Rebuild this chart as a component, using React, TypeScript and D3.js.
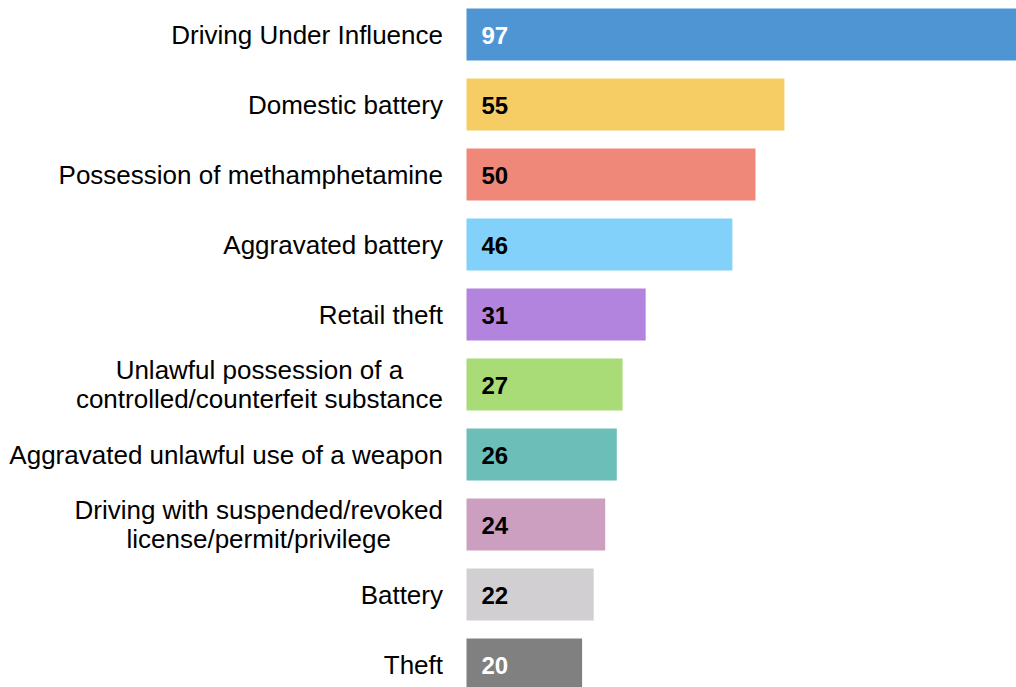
import { useEffect, useRef } from "react";
import * as d3 from "d3";

// offense categories (two-line labels split with "\n")
const categories = [
  "Driving Under Influence",
  "Domestic battery",
  "Possession of methamphetamine",
  "Aggravated battery",
  "Retail theft",
  "Unlawful possession of a\ncontrolled/counterfeit substance",
  "Aggravated unlawful use of a weapon",
  "Driving with suspended/revoked\nlicense/permit/privilege",
  "Battery",
  "Theft",
];
const counts = [97, 55, 50, 46, 31, 27, 26, 24, 22, 20];
const barColors = [
  "#4f95d4",
  "#f6cd64",
  "#f0887a",
  "#81d1fb",
  "#b384de",
  "#a9db77",
  "#6bbfb8",
  "#cc9ebf",
  "#d1cfd1",
  "#808080",
];
const valueColors = ["#fff", "#000", "#000", "#000", "#000", "#000", "#000", "#000", "#000", "#fff"];

const App = () => {
  const ref = useRef<SVGSVGElement | null>(null);

  useEffect(() => {
    const svg = d3.select(ref.current);
    svg.selectAll("*").remove();

    const font = "'Liberation Sans', Arial, sans-serif";
    const labelSize = 26;
    const lineH = 29;
    const labelRight = 443;

    const x = d3.scaleLinear().domain([0, 100]).range([466.5, 466.5 + 578]);
    const y = d3
      .scaleBand()
      .domain(categories)
      .range([-0.5, 699.5])
      .paddingInner(0.257)
      .paddingOuter(0.1285);

    const rows = categories.map((c, i) => ({ c, v: counts[i], i }));

    // bars
    svg
      .append("g")
      .selectAll("rect")
      .data(rows)
      .join("rect")
      .attr("x", x(0))
      .attr("y", (d) => y(d.c)!)
      .attr("width", (d) => x(d.v) - x(0))
      .attr("height", y.bandwidth())
      .attr("fill", (d) => barColors[d.i]);

    // value labels inside the bars
    svg
      .append("g")
      .selectAll("text")
      .data(rows)
      .join("text")
      .attr("x", x(0) + 15)
      .attr("y", (d) => y(d.c)! + y.bandwidth() / 2)
      .attr("dy", "0.38em")
      .attr("font-family", font)
      .attr("font-size", 24)
      .attr("font-weight", "bold")
      .attr("fill", (d) => valueColors[d.i])
      .text((d) => d.v);

    // category labels, right aligned
    const labels = svg
      .append("g")
      .selectAll("text")
      .data(rows)
      .join("text")
      .attr("x", labelRight)
      .attr("y", (d) => y(d.c)! + y.bandwidth() / 2)
      .attr("text-anchor", "end")
      .attr("font-family", font)
      .attr("font-size", labelSize)
      .attr("fill", "#000");

    labels.each(function (d) {
      const lines = d.c.split("\n");
      const t = d3.select(this);
      lines.forEach((ln, k) => {
        t.append("tspan")
          .attr("x", labelRight)
          .attr("dy", k === 0 ? `${0.36 * labelSize - ((lines.length - 1) * lineH) / 2}px` : `${lineH}px`)
          .text(ln);
      });
    });

    // multi-line labels are centred on their own block, right edge at labelRight
    labels
      .filter((d) => d.c.includes("\n"))
      .each(function () {
        const t = d3.select(this);
        const tspans = t.selectAll<SVGTSpanElement, unknown>("tspan").nodes();
        const widest = d3.max(tspans, (n) => n.getComputedTextLength()) ?? 0;
        t.attr("text-anchor", "middle");
        t.selectAll("tspan").attr("x", labelRight - widest / 2);
      });
  }, []);

  return (
    <svg
      ref={ref}
      width={1016}
      height={687}
      style={{ position: "absolute", left: 0, top: 0, background: "#fff" }}
    />
  );
};

export default App;
